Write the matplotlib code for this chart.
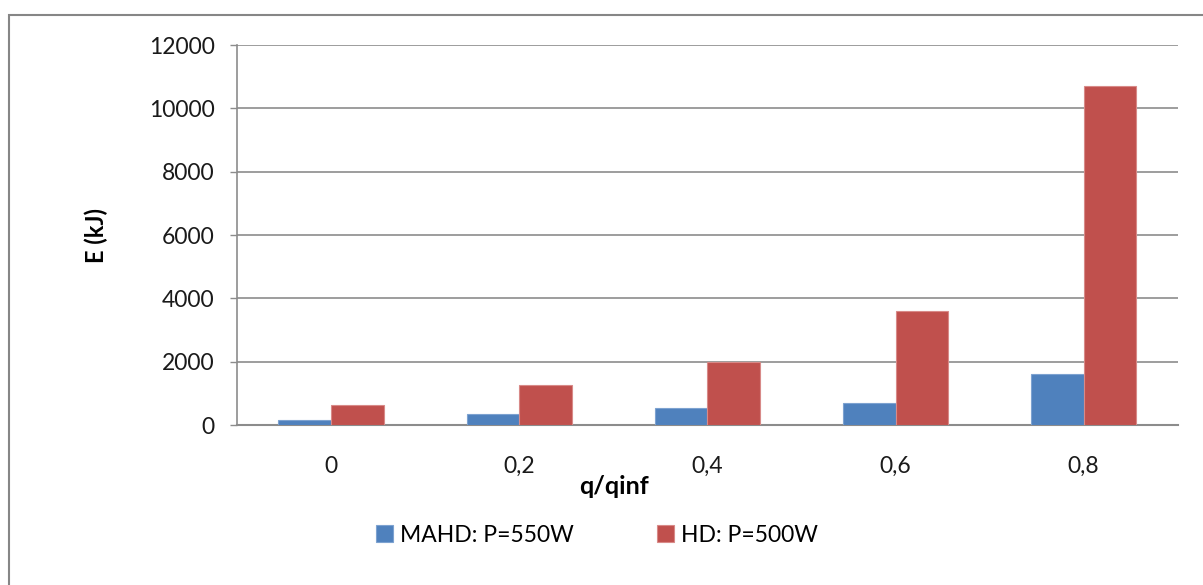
import matplotlib.pyplot as plt
import numpy as np
from matplotlib.patches import Rectangle

categories = ['0', '0,2', '0,4', '0,6', '0,8']
mahd_550 = [150, 335, 530, 685, 1600]
hd_500 = [630, 1270, 2000, 3600, 10700]
series_names = ['MAHD: P=550W', 'HD: P=500W']

plt.rcParams['font.family'] = ['Lato', 'DejaVu Sans']

fig = plt.figure(figsize=(12.03, 5.85), dpi=100)
ax = fig.add_axes([0.197, 0.2735, 0.782, 0.6495])

# outer frame of the chart area (runs off the right and bottom edges)
fig.patches.append(Rectangle((9 / 1203, -0.05), 1.1, 1.05 - 15 / 585,
                             transform=fig.transFigure, fill=False,
                             edgecolor='#868686', linewidth=1.5))

x = np.arange(len(categories))
w = 0.28
ax.bar(x - w / 2, mahd_550, w, color='#4F81BD', edgecolor='#7da2d0',
       linewidth=0.8, label=series_names[0], zorder=3)
ax.bar(x + w / 2, hd_500, w, color='#C0504D', edgecolor='#d88a88',
       linewidth=0.8, label=series_names[1], zorder=3)

ax.set_xlim(-0.5, len(categories) - 0.5)
ax.set_ylim(0, 12000)
ax.set_yticks(range(0, 12001, 2000))
ax.set_xticks(x)
ax.set_xticklabels(categories)

ax.grid(axis='y', color='#8c8c8c', linewidth=1.2, zorder=0)
for s in ['top', 'right']:
    ax.spines[s].set_visible(False)
ax.spines['left'].set_color('#8c8c8c')
ax.spines['bottom'].set_color('#8c8c8c')
ax.spines['left'].set_linewidth(1.2)
ax.spines['bottom'].set_linewidth(1.5)

ax.tick_params(axis='y', length=5, width=1, color='#8c8c8c', pad=11,
               labelsize=16.5, labelcolor='#1a1a1a')
ax.tick_params(axis='x', length=0, pad=22, labelsize=16.5, labelcolor='#1a1a1a')

ax.set_ylabel('E (kJ)', fontsize=17, fontweight='bold')
ax.yaxis.set_label_coords(-0.137, 0.5)
fig.text(614 / 1203, 1 - 486 / 585, 'q/qinf', fontsize=18, fontweight='bold',
         ha='center', va='center')

fig.legend(loc='center', bbox_to_anchor=(597 / 1203, 1 - 535 / 585), ncol=2,
           frameon=False, fontsize=16.5, handlelength=0.75, handleheight=0.75,
           handletextpad=0.3, columnspacing=3.6)

fig.savefig('out.png', dpi=100)
